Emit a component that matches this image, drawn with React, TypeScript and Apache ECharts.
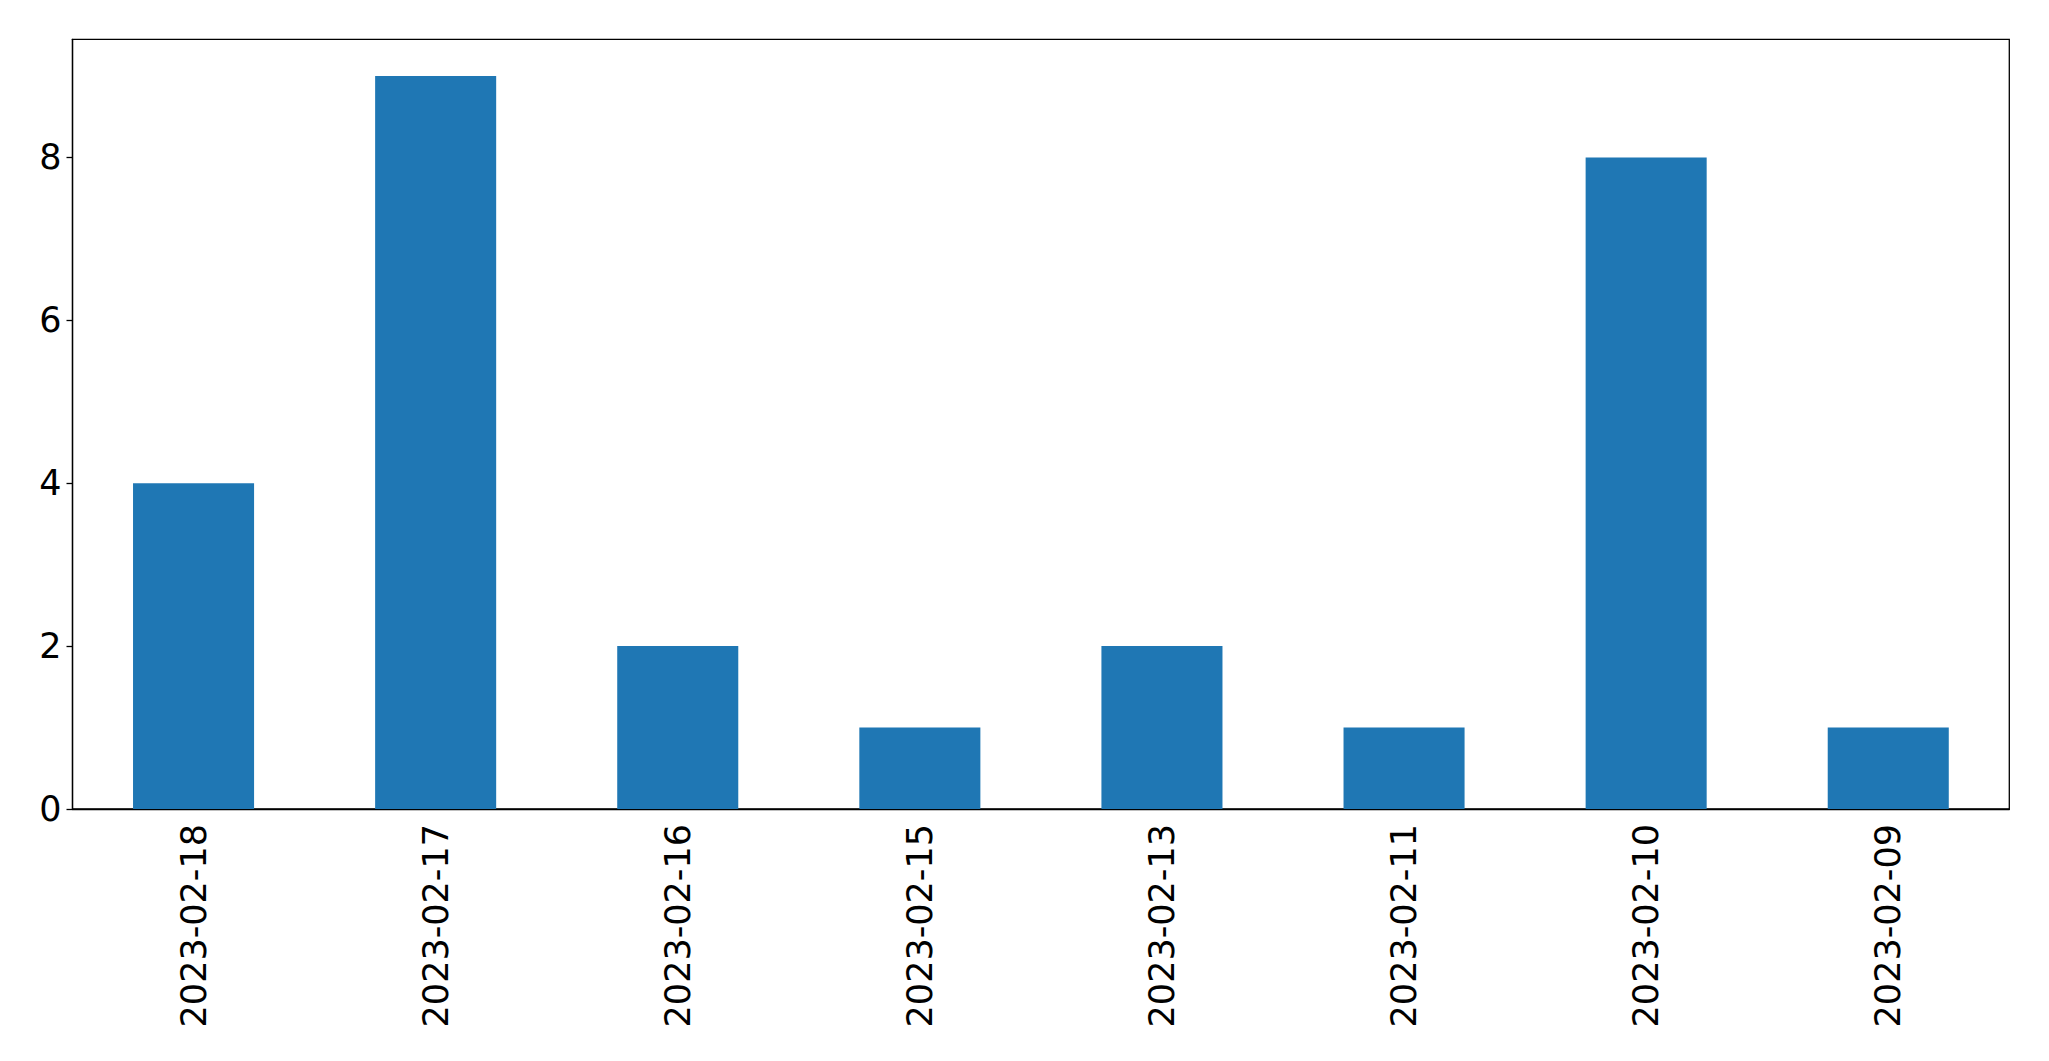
import React, { useEffect, useRef } from "react";
import * as echarts from "echarts";

const categories = [
  "2023-02-18",
  "2023-02-17",
  "2023-02-16",
  "2023-02-15",
  "2023-02-13",
  "2023-02-11",
  "2023-02-10",
  "2023-02-09",
];
const values = [4, 9, 2, 1, 2, 1, 8, 1];
const yMax = 9.45;

export default function App() {
  const ref = useRef<HTMLDivElement>(null);
  useEffect(() => {
    if (!ref.current) return;
    const chart = echarts.init(ref.current, null, { renderer: "svg" });
    const font = "DejaVu Sans";
    chart.setOption({
      animation: false,
      backgroundColor: "#ffffff",
      grid: {
        left: 72.5,
        right: 39.7,
        top: 39.3,
        bottom: 252,
        show: true,
        borderColor: "#000000",
        borderWidth: 1.3,
        backgroundColor: "transparent",
      },
      xAxis: {
        type: "category",
        data: categories,
        boundaryGap: true,
        axisLine: { lineStyle: { color: "#000000", width: 1.3 } },
        axisTick: { alignWithLabel: true, length: 6, lineStyle: { color: "#000000", width: 1.3 } },
        axisLabel: {
          rotate: 90,
          margin: 15,
          color: "#000000",
          fontSize: 35,
          fontFamily: font,
          interval: 0,
        },
        splitLine: { show: false },
      },
      yAxis: {
        type: "value",
        min: 0,
        max: yMax,
        interval: 2,
        axisLine: { show: true, lineStyle: { color: "#000000", width: 1.3 } },
        axisTick: { show: true, length: 6, lineStyle: { color: "#000000", width: 1.3 } },
        axisLabel: {
          margin: 11,
          color: "#000000",
          fontSize: 35,
          fontFamily: font,
          showMaxLabel: false,
        },
        splitLine: { show: false },
      },
      series: [
        {
          type: "bar",
          data: values,
          barWidth: "50%",
          itemStyle: { color: "#1f77b4" },
        },
      ],
    });
    return () => chart.dispose();
  }, []);
  return (
    <div
      ref={ref}
      style={{ position: "fixed", left: 0, top: 0, width: 2049, height: 1061, background: "#fff" }}
    />
  );
}
